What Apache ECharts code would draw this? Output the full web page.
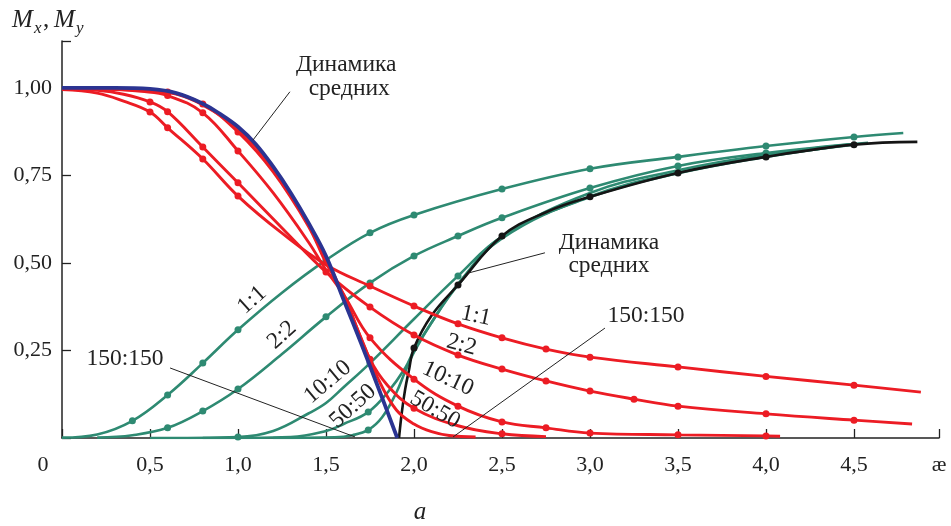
<!DOCTYPE html>
<html><head><meta charset="utf-8">
<script src="https://cdn.jsdelivr.net/npm/echarts@6/dist/echarts.min.js"></script>
<style>html,body{margin:0;padding:0;background:#fff}#c{width:951px;height:526px}</style>
</head><body><div id="c"></div>
<script>
// ---- tick labels ----
const xTickLabels = ['0','0,5','1,0','1,5','2,0','2,5','3,0','3,5','4,0','4,5'];
const xEndLabel = 'æ';
const yTickLabels = ['', '0,25', '0,50', '0,75', '1,00'];

// ---- curves: [x, y, dot(1/0)] ----
const meanDown = [[0,1.0,0],[0.3,1.0,0],[0.5,0.997,0],[0.65,0.985,0],[0.8,0.955,0],[0.9,0.925,0],[1.0,0.889,0],[1.1,0.84,0],[1.2,0.775,0],[1.3,0.70,0],[1.4,0.615,0],[1.5,0.52,0],[1.6,0.395,0],[1.7,0.27,0],[1.8,0.14,0],[1.905,0,0]];
const meanUp = [[1.915,0,0],[1.93,0.07,0],[1.95,0.14,0],[1.97,0.19,0],[2.0,0.257,1],[2.1,0.35,0],[2.25,0.437,1],[2.5,0.577,1],[2.75,0.645,0],[3.0,0.689,1],[3.5,0.757,1],[4.0,0.803,1],[4.5,0.838,1],[4.86,0.846,0]];

const redX1 = [[0,0.995,0],[0.2,0.985,0],[0.35,0.962,0],[0.5,0.931,1],[0.6,0.886,1],[0.8,0.797,1],[1.0,0.691,1],[1.25,0.585,0],[1.5,0.495,0],[1.75,0.434,1],[2.0,0.377,1],[2.25,0.326,1],[2.5,0.286,1],[2.75,0.254,1],[3.0,0.231,1],[3.5,0.203,1],[4.0,0.176,1],[4.5,0.151,1],[4.88,0.131,0]];
const redX2 = [[0,0.997,0],[0.2,0.993,0],[0.35,0.982,0],[0.5,0.96,1],[0.6,0.932,1],[0.8,0.831,1],[1.0,0.729,1],[1.25,0.60,0],[1.5,0.474,1],[1.75,0.374,1],[2.0,0.294,1],[2.25,0.237,1],[2.5,0.197,1],[2.75,0.163,1],[3.0,0.134,1],[3.25,0.111,1],[3.5,0.091,1],[4.0,0.069,1],[4.5,0.051,1],[4.83,0.04,0]];
const redX10 = [[0,0.998,0],[0.3,0.995,0],[0.45,0.99,0],[0.6,0.978,1],[0.8,0.929,1],[1.0,0.82,1],[1.2,0.70,0],[1.4,0.56,0],[1.5,0.48,0],[1.6,0.41,0],[1.75,0.286,1],[2.0,0.168,1],[2.25,0.091,1],[2.5,0.046,1],[2.75,0.029,1],[3.0,0.014,1],[3.5,0.009,1],[4.0,0.006,1],[4.08,0.005,0]];
const redX50 = [[0,0.998,0],[0.3,0.996,0],[0.45,0.993,0],[0.6,0.988,1],[0.8,0.954,1],[1.0,0.874,1],[1.2,0.76,0],[1.4,0.605,0],[1.5,0.50,0],[1.6,0.41,0],[1.75,0.225,1],[1.85,0.15,0],[2.0,0.085,1],[2.25,0.035,0],[2.5,0.012,1],[2.75,0.004,0]];
const redX150 = [[0,0.999,0],[0.3,0.998,0],[0.5,0.994,0],[0.65,0.982,0],[0.8,0.951,0],[1.0,0.883,0],[1.2,0.768,0],[1.4,0.61,0],[1.5,0.515,0],[1.6,0.405,0],[1.7,0.285,0],[1.8,0.165,0],[1.9,0.08,0],[2.0,0.04,0],[2.1,0.018,0],[2.2,0.007,0],[2.35,0.003,0]];

const greenY1 = [[0,0.001,0],[0.2,0.01,0],[0.4,0.049,1],[0.6,0.123,1],[0.8,0.214,1],[1.0,0.309,1],[1.25,0.415,0],[1.5,0.508,1],[1.75,0.586,1],[2.0,0.637,1],[2.5,0.711,1],[3.0,0.769,1],[3.5,0.803,1],[4.0,0.834,1],[4.5,0.86,1],[4.78,0.871,0]];
const greenY2 = [[0.2,0.001,0],[0.4,0.008,0],[0.6,0.029,1],[0.8,0.077,1],[1.0,0.14,1],[1.25,0.24,0],[1.5,0.346,1],[1.75,0.443,1],[2.0,0.52,1],[2.25,0.577,1],[2.5,0.629,1],[3.0,0.714,1],[3.5,0.777,1],[4.0,0.814,1],[4.58,0.843,0]];
const greenY10 = [[0.5,0,0],[1.0,0.003,1],[1.2,0.02,0],[1.4,0.07,0],[1.5,0.1,0],[1.6,0.145,0],[1.75,0.214,1],[2.0,0.34,0],[2.25,0.463,1],[2.5,0.575,0],[3.0,0.70,0],[3.5,0.765,0],[4.0,0.81,0],[4.5,0.84,0]];
const greenY50 = [[0.8,0,0],[1.3,0.003,0],[1.5,0.02,0],[1.6,0.04,0],[1.74,0.074,1],[1.85,0.13,0],[1.95,0.2,0],[2.0,0.25,0],[2.1,0.33,0],[2.25,0.44,0],[2.5,0.57,0],[3.0,0.69,0],[3.5,0.758,0],[4.0,0.805,0],[4.5,0.838,0]];
const greenY150 = [[1.2,0,0],[1.55,0.002,0],[1.65,0.008,0],[1.74,0.023,1],[1.82,0.06,0],[1.9,0.13,0],[1.95,0.19,0],[2.0,0.245,0],[2.1,0.33,0],[2.25,0.437,0],[2.5,0.575,0],[3.0,0.688,0],[3.5,0.756,0],[4.0,0.803,0],[4.5,0.84,0]];
</script>
<script>
const RED='#ec1c24', GREEN='#2e8a72', BLUE='#2b3492', BLACK='#151515';
const FONT='"Liberation Serif", "DejaVu Serif", serif';
const chart = echarts.init(document.getElementById('c'), null, {renderer:'canvas'});

function mk(name, pts, color, width, z){
  return {
    type:'line', name, z, animation:false, clip:true,
    data: pts.map(p=>({value:[p[0],p[1]], symbol: p[2]?'circle':'none', symbolSize:7})),
    showSymbol:true, showAllSymbol:true, smooth:0.4,
    lineStyle:{color, width}, itemStyle:{color, borderWidth:0},
    emphasis:{disabled:true}
  };
}
const X_MAX = 4.983, Y_MAX = 1.134;
chart.setOption({
  animation:false,
  grid:{left:62, right:12, top:41, bottom:88, containLabel:false},
  xAxis:{type:'value', min:0, max:X_MAX, interval:0.5,
    axisLine:{show:true, onZero:false, lineStyle:{color:'#222', width:1.5}},
    axisTick:{show:true, inside:true, length:9, lineStyle:{color:'#222', width:1.3}},
    splitLine:{show:false},
    axisLabel:{show:true, interval:0, margin:16, color:'#222', fontFamily:FONT, fontSize:22,
      showMaxLabel:true, showMinLabel:true,
      formatter:(v)=>{ if (v > 4.6) return xEndLabel; const i=Math.round(v/0.5); if(i===0) return '{z|'+xTickLabels[0]+'}'; return xTickLabels[i]||''; },
      rich:{z:{fontFamily:FONT, fontSize:22, color:'#222', padding:[0,38,0,0]}}
    }
  },
  yAxis:{type:'value', min:0, max:Y_MAX, interval:0.25,
    axisLine:{show:true, onZero:false, lineStyle:{color:'#222', width:1.5}},
    axisTick:{show:true, inside:true, length:9, lineStyle:{color:'#222', width:1.3}},
    splitLine:{show:false},
    axisLabel:{show:true, margin:10, color:'#222', fontFamily:FONT, fontSize:22,
      formatter:(v)=>{ if (v > 1.05) return ''; const i=Math.round(v/0.25); return yTickLabels[i]||''; }
    }
  },
  series:[
    mk('green 1:1', greenY1, GREEN, 2.6, 2),
    mk('green 2:2', greenY2, GREEN, 2.6, 2),
    mk('green 10:10', greenY10, GREEN, 2.6, 2),
    mk('green 50:50', greenY50, GREEN, 2.6, 2),
    mk('green 150:150', greenY150, GREEN, 2.6, 2),
    mk('black mean', meanUp, BLACK, 2.6, 3),
    mk('red 1:1', redX1, RED, 2.9, 4),
    mk('red 2:2', redX2, RED, 2.9, 4),
    mk('red 10:10', redX10, RED, 2.9, 4),
    mk('red 50:50', redX50, RED, 2.9, 4),
    mk('red 150:150', redX150, RED, 2.9, 4),
    mk('blue mean', meanDown, BLUE, 3.8, 5)
  ]
});

const P = (x,y)=>chart.convertToPixel({gridIndex:0},[x,y]);
const texts = [
  {t:'Динамика', d:[1.615,1.066], r:0},
  {t:'средних', d:[1.632,0.997], r:0},
  {t:'Динамика', d:[3.108,0.557], r:0},
  {t:'средних', d:[3.108,0.491], r:0},
  {t:'1:1', d:[1.08,0.394], r:42},
  {t:'2:2', d:[1.25,0.294], r:42},
  {t:'10:10', d:[1.51,0.160], r:40},
  {t:'50:50', d:[1.653,0.091], r:42},
  {t:'150:150', d:[0.358,0.226], r:0},
  {t:'1:1', d:[2.352,0.349], r:-12},
  {t:'2:2', d:[2.27,0.266], r:-15},
  {t:'10:10', d:[2.193,0.169], r:-25},
  {t:'50:50', d:[2.12,0.08], r:-30},
  {t:'150:150', d:[3.318,0.349], r:0}
];
const leaders = [
  [[1.295,0.989],[1.085,0.851]],
  [[2.744,0.529],[2.307,0.471]],
  [[0.614,0.20],[1.665,0.003]],
  [[3.085,0.314],[2.222,0.003]]
];
const g = [];
texts.forEach(o=>{
  const p = P(o.d[0], o.d[1]);
  g.push({type:'text', x:p[0], y:p[1], rotation:o.r*Math.PI/180, z:50,
    style:{text:o.t, font:'23.5px '+FONT, fill:'#222', align:'center', verticalAlign:'middle'}});
});
leaders.forEach(l=>{
  const a=P(l[0][0],l[0][1]), b=P(l[1][0],l[1][1]);
  g.push({type:'line', z:40, shape:{x1:a[0],y1:a[1],x2:b[0],y2:b[1]}, style:{stroke:'#222', lineWidth:1}});
});
g.push({type:'text', x:12, y:8, z:50, style:{text:'M', font:'italic 25px '+FONT, fill:'#222'}});
g.push({type:'text', x:34, y:20, z:50, style:{text:'x', font:'italic 17px '+FONT, fill:'#222'}});
g.push({type:'text', x:43, y:8, z:50, style:{text:',', font:'25px '+FONT, fill:'#222'}});
g.push({type:'text', x:54, y:8, z:50, style:{text:'M', font:'italic 25px '+FONT, fill:'#222'}});
g.push({type:'text', x:76, y:20, z:50, style:{text:'y', font:'italic 17px '+FONT, fill:'#222'}});
g.push({type:'text', x:420, y:512, z:50, style:{text:'a', font:'italic 25px '+FONT, fill:'#222', align:'center', verticalAlign:'middle'}});
chart.setOption({graphic:g});
</script>
</body></html>
